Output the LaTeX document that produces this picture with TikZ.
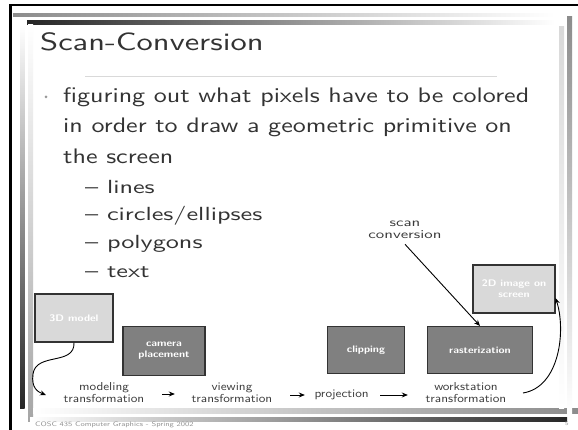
\documentclass[tikz,border=0pt]{standalone}
\usepackage{fontspec}
\usetikzlibrary{arrows.meta}
\newfontfamily\handT[FakeStretch=1.3]{lmsans10-regular.otf}
\newfontfamily\handB[FakeStretch=1.24]{lmsans10-regular.otf}
\newfontfamily\handS[FakeStretch=1.38]{lmsans10-regular.otf}
\newfontfamily\handL[FakeStretch=1.15]{lmsans10-regular.otf}
\newfontfamily\handC[FakeStretch=1.4]{lmsans10-regular.otf}
\newfontfamily\handX[FakeStretch=1.15]{lmsans10-bold.otf}
\newfontfamily\handF[FakeStretch=1.3]{lmsans10-regular.otf}
\definecolor{txt}{HTML}{333333}
\definecolor{lab}{HTML}{3A3A3A}
\definecolor{lightbox}{HTML}{D9D9D9}
\definecolor{darkbox}{HTML}{808080}
\definecolor{boxline}{HTML}{333333}
\begin{document}
\begin{tikzpicture}[x=1pt,y=-1pt,
  boxlight/.style={draw=boxline, line width=1.1pt, fill=lightbox, text=white, font=\handX\fontsize{9.5}{11}\selectfont, align=center, minimum width=#1},
  boxdark/.style={draw=boxline, line width=1.1pt, fill=darkbox, text=white, font=\handX\fontsize{9.5}{11}\selectfont, align=center, minimum width=#1},
  steplabel/.style={text=lab, font=\handL\fontsize{11.5}{12}\selectfont, align=center, inner sep=0pt, text width=#1},
  arr/.style={-{Stealth[length=6pt,width=5pt]}, line width=0.9pt, black},
  bodytext/.style={anchor=west, text=txt, inner sep=0pt, font=\handB\fontsize{21}{21}\selectfont},
  subtext/.style={anchor=west, text=txt, inner sep=0pt, font=\handS\fontsize{19}{19}\selectfont}
]
\useasboundingbox (0,0) rectangle (578,430);
\fill[white] (0,0) rectangle (578,430);
% frame
\fill[black] (9,4) rectangle (578,6.5);
\fill[black] (9,4) rectangle (11.5,430);
\shade[left color=black!45, right color=white] (13,14) rectangle (555,17);
\shade[left color=black!85, right color=white] (27,21) rectangle (555,25);
\shade[top color=white, bottom color=black!85] (20,25) rectangle (24.5,408);
\shade[top color=white, bottom color=black!35] (28,25) rectangle (33,421);
\shade[left color=white, right color=black!45] (33,408) rectangle (578,413);
\shade[left color=white, right color=black!85] (30,417) rectangle (567,421);
\shade[top color=black!45, bottom color=white] (567,17) rectangle (572,413);
\shade[top color=black!15, bottom color=white] (559,27) rectangle (564,408);
% title
\node[anchor=west, text=txt, inner sep=0pt, font=\handT\fontsize{25}{25}\selectfont] (title) at (40,42) {Scan-Conversion};
\draw[black!15, line width=0.6pt] (85,76) -- (497,76);
% body
\node[circle, fill=black!40, inner sep=0pt, minimum size=3pt] (bul) at (46,97) {};
\node[bodytext] (l1) at (63,97) {figuring out what pixels have to be colored};
\node[bodytext] (l2) at (63,127) {in order to draw a geometric primitive on};
\node[bodytext] (l3) at (63,156) {the screen};
\node[subtext] (s1) at (85,187) {\textendash\ lines};
\node[subtext] (s2) at (85,216) {\textendash\ circles/ellipses};
\node[subtext] (s3) at (85,244) {\textendash\ polygons};
\node[subtext] (s4) at (85,272) {\textendash\ text};
% boxes
\node[boxlight=78pt, minimum height=48pt] (m3d) at (74,318) {3D model};
\node[boxdark=82pt, minimum height=49pt] (cam) at (164,351) {camera\\placement};
\node[boxdark=77pt, minimum height=47pt] (clip) at (366,350) {clipping};
\node[boxdark=105pt, minimum height=47pt] (rast) at (480,350) {rasterization};
\node[boxlight=82pt, minimum height=48pt] (img) at (514,289) {2D image on\\screen};
% labels
\node[steplabel=83pt] (mod) at (104,393) {modeling\\transformation};
\node[steplabel=83pt] (view) at (232,393) {viewing\\transformation};
\node[steplabel=53pt] (proj) at (341,395) {projection};
\node[steplabel=83pt] (work) at (466,393) {workstation\\transformation};
\node[text=lab, inner sep=0pt, align=center, font=\handC\fontsize{12}{12.5}\selectfont] (scan) at (405,230) {scan\\conversion};
\coordinate (mtip) at (46,395);
\coordinate (wstart) at (523,393);
% connectors
\draw[arr] (m3d.south) .. controls (75,366) and (36,352) .. (33,374) .. controls (31,388) and (38,392) .. (mtip);
\draw[arr, shorten <=16.5pt, shorten >=15.5pt] (mod.east |- 0,394) -- (view.west |- 0,394);
\draw[arr, shorten <=16.5pt, shorten >=9.5pt] (view.east |- 0,395) -- (proj.west |- 0,395);
\draw[arr, shorten <=12.5pt, shorten >=16.5pt] (proj.east |- 0,395) -- (work.west |- 0,395);
\draw[arr] (wstart) .. controls (560,387) and (566,330) .. (img.east |- 0,298);
\draw[arr] (scan.south) ++(0,5) -- (rast.north);
% footer
\node[anchor=west, text=black!45, inner sep=0pt, font=\handF\fontsize{6.5}{7}\selectfont] (foot) at (35,425) {COSC 435 Computer Graphics - Spring 2002};
\node[text=black!45, inner sep=0pt, font=\handF\fontsize{5.5}{6}\selectfont] (pg) at (567,424) {5};
\end{tikzpicture}
\end{document}
